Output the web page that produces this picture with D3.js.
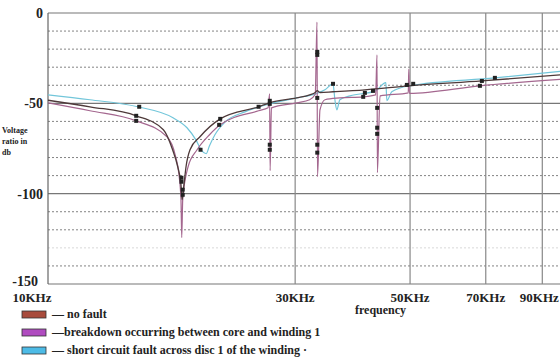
<!DOCTYPE html>
<html>
<head>
<meta charset="utf-8">
<script src="https://cdn.jsdelivr.net/npm/d3@7"></script>
<style>
  body { margin: 0; background: #fff; }
  text { font-family: "Liberation Serif", "DejaVu Serif", serif; font-weight: bold; fill: #222; }
</style>
</head>
<body>
<script>
// frequency in KHz, voltage ratio in db
const noFaultFreq = [10, 12.05, 14.8, 16.7, 17.4, 17.8, 18.06, 18.15, 18.3, 18.47, 18.8, 19.65, 21.5, 25.5, 26.8, 30.2, 32.0, 32.8, 33.1, 33.5, 35.5, 40.9, 49.8, 68.8, 100]
const noFaultDb = [-48.3, -51.9, -56.9, -64.6, -75.7, -85.1, -95, -103.3, -95, -85.1, -75.7, -68.5, -58.6, -51.9, -49.7, -47, -45.3, -44, -43, -44, -43.6, -42.5, -40.3, -37.6, -34]

const breakdownFreq = [10, 12.05, 14.8, 16.97, 17.6, 17.9, 18.06, 18.12, 18.2, 18.4, 18.64, 19.4, 20.5, 21.5, 25.5, 26.6, 26.78, 26.84, 27.0, 30.2, 32.0, 32.8, 33.06, 33.13, 33.5, 34.25, 36.6, 40.6, 42.9, 43.17, 43.24, 43.75, 49.6, 49.72, 49.85, 68.2, 100]
const breakdownDb = [-49.7, -54.1, -59.7, -68.5, -78.5, -89.5, -103.3, -124.3, -103.3, -92.3, -85.1, -75.7, -67.4, -61.9, -54.1, -52.5, -44.7, -87.3, -52.5, -49.7, -48, -45, -5, -90.6, -53.6, -48, -47, -46.4, -45.3, -23.2, -88.4, -45.9, -44.2, -31, -44.5, -40.3, -36.5]

const shortFreq = [10, 12.05, 14.9, 17.43, 18.55, 19.3, 19.8, 20.2, 20.5, 21.0, 22.0, 24.0, 26.8, 30.2, 32.8, 34.25, 35.5, 35.8, 36.1, 36.6, 38.3, 42.9, 44.9, 45.1, 46.1, 49.8, 72.9, 100]
const shortDb = [-45.3, -48, -51.9, -58, -63.5, -70.2, -76.2, -77.9, -73.5, -67.4, -60.2, -54.7, -50.3, -47, -44.8, -42.5, -39.2, -48, -53.6, -48, -45.9, -43.1, -38.5, -48.5, -43.6, -40.3, -35.9, -32]

const markerFreq = [15.0, 14.8, 14.8, 18.1, 18.1, 18.2, 18.2, 19.7, 21.4, 21.5, 25.5, 26.8, 26.8, 26.8, 26.8, 33.1, 33.1, 33.1, 33.1, 33.1, 35.5, 40.6, 40.9, 42.4, 43.2, 43.2, 43.2, 49.3, 50.7, 68.2, 68.8, 72.9]
const markerDb = [-51.9, -56.9, -59.7, -91.2, -93.4, -97.8, -100.6, -75.7, -61.9, -58.6, -51.9, -48.6, -50.3, -72.9, -75.7, -21.5, -23.2, -47, -72.9, -77.3, -39.2, -46.4, -44.2, -43.1, -52.5, -63.5, -66.9, -39.8, -39.2, -40.3, -37.6, -35.9]

const xTicks = [10, 30, 50, 70, 90]
const xTickLabels = ['10KHz', '30KHz', '50KHz', '70KHz', '90KHz']
const yMajor = [0, -50, -100, -150]
const yMinor = [-10, -20, -30, -40, -60, -70, -80, -90, -110, -120, -130, -140]

const legendNames = ['— no fault', '—breakdown occurring between core and winding 1', '— short circuit fault across disc 1 of the winding ·']
const legendColors = ['#a84b3c', '#b04cc0', '#4dbbe6']

let svg = d3.select('body').append('svg')
  .attr('width', 560)
  .attr('height', 361)

let x = d3.scaleLog().domain([10, 100]).range([48, 566])
let y = d3.scaleLinear().domain([-150, 0]).range([284, 13])

// grid
svg.append('g').selectAll('line').data(yMinor).enter().append('line')
  .attr('x1', 48).attr('x2', 560)
  .attr('y1', d => y(d)).attr('y2', d => y(d))
  .attr('stroke', '#666').attr('stroke-width', 1).attr('stroke-dasharray', '2,2')
  .attr('opacity', (d) => d == -130 ? 0.25 : 0.8)

svg.append('g').selectAll('line').data(yMajor).enter().append('line')
  .attr('x1', 48).attr('x2', 560)
  .attr('y1', d => y(d)).attr('y2', d => y(d))
  .attr('stroke', '#777').attr('stroke-width', 1.2)

svg.append('g').selectAll('line').data(xTicks).enter().append('line')
  .attr('x1', d => x(d)).attr('x2', d => x(d))
  .attr('y1', y(0)).attr('y2', y(-150))
  .attr('stroke', (d) => d == 10 ? '#666' : '#888').attr('stroke-width', 1.2)

// series
let line = d3.line().curve(d3.curveMonotoneX)
  .x(d => x(d[0])).y(d => y(d[1]))

let series = [
  [d3.zip(shortFreq, shortDb), '#72c6da', 1.2],
  [d3.zip(breakdownFreq, breakdownDb), '#a4678f', 1.2],
  [d3.zip(noFaultFreq, noFaultDb), '#4e3a3a', 1.3]
]
svg.append('g').selectAll('path').data(series).enter().append('path')
  .attr('d', d => line(d[0]))
  .attr('fill', 'none')
  .attr('stroke', d => d[1])
  .attr('stroke-width', d => d[2])

svg.append('g').selectAll('rect').data(d3.zip(markerFreq, markerDb)).enter().append('rect')
  .attr('x', d => x(d[0]) - 2).attr('y', d => y(d[1]) - 2)
  .attr('width', 4).attr('height', 4)
  .attr('fill', '#222')

// axis labels
svg.append('g').selectAll('text').data(yMajor).enter().append('text')
  .attr('x', (d) => d == -150 ? 38 : 43)
  .attr('y', d => d == -150 ? y(d) + 2 : y(d) + 5)
  .attr('text-anchor', 'end')
  .attr('font-size', 14)
  .text(d => d)

svg.append('g').selectAll('text').data(xTicks).enter().append('text')
  .attr('x', (d, i) => i == 0 ? x(d) - 16 : (i == 4 ? x(d) - 3 : x(d)))
  .attr('y', 302)
  .attr('text-anchor', 'middle')
  .attr('font-size', 13)
  .text((d, i) => xTickLabels[i])

svg.append('text').attr('x', 355).attr('y', 314).attr('font-size', 12).text('frequency')

let ytitle = svg.append('text').attr('font-size', 8).attr('x', 2)
ytitle.append('tspan').attr('x', 2).attr('y', 133).text('Voltage')
ytitle.append('tspan').attr('x', 2).attr('y', 144).text('ratio in')
ytitle.append('tspan').attr('x', 2).attr('y', 155).text('db')

// legend
let legend = svg.append('g').selectAll('g').data(legendNames).enter().append('g')
  .attr('transform', (d, i) => `translate(22,${316 + i * 18})`)

legend.append('rect')
  .attr('width', 24).attr('height', 7).attr('y', -5)
  .attr('fill', (d, i) => legendColors[i])
  .attr('stroke', '#333').attr('stroke-width', 0.8)

legend.append('text')
  .attr('x', 30).attr('y', 2)
  .attr('font-size', 12)
  .text(d => d)
</script>
</body>
</html>
